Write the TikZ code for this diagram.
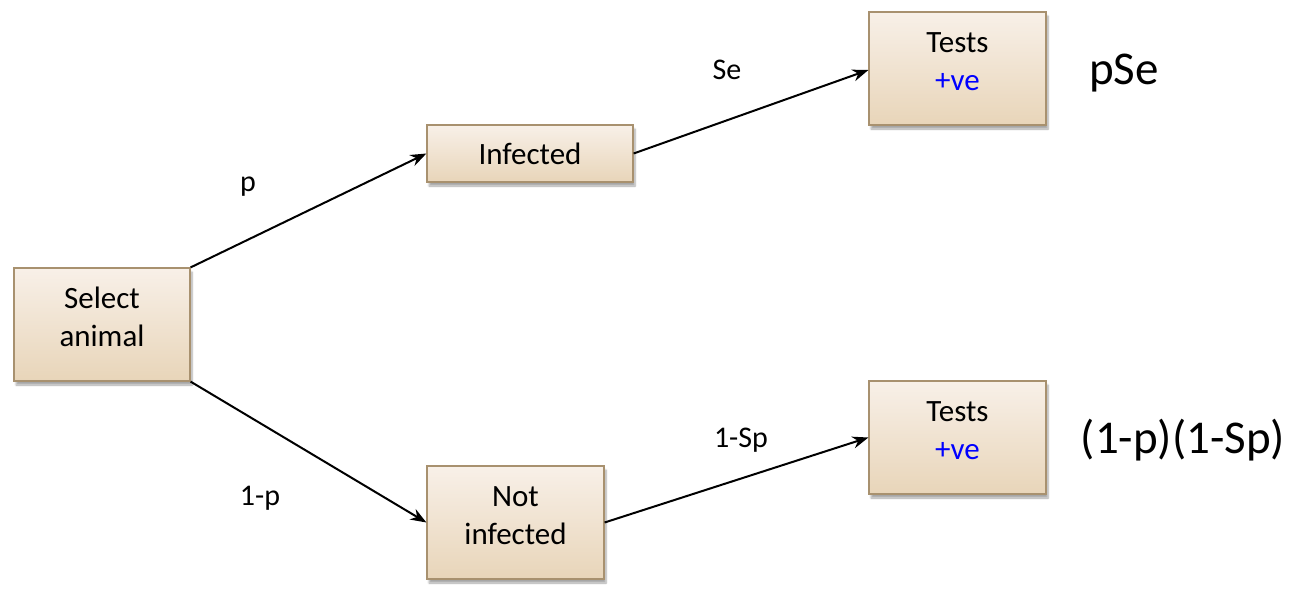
\documentclass[tikz,border=0pt]{standalone}
\usepackage{fontspec}
\setmainfont{Carlito}
\usetikzlibrary{arrows.meta,shadows.blur}
\definecolor{boxtop}{HTML}{F8F0E8}
\definecolor{boxbot}{HTML}{E8D5B9}
\definecolor{boxedge}{HTML}{A8916F}
\definecolor{posblue}{HTML}{0000FF}
\newcommand\boxlines[1]{\raisebox{5pt}[\height][\depth]{\begin{tabular}{@{}c@{}}#1\end{tabular}}}
\tikzset{
  box/.style={draw=boxedge, line width=1.2pt, top color=boxtop, bottom color=boxbot,
    align=center, inner sep=0pt, font=\fontsize{31}{38}\selectfont,
    blur shadow={shadow xshift=2pt, shadow yshift=-4pt, shadow blur steps=6, shadow opacity=35}},
  conn/.style={line width=2pt, -{Stealth[length=16pt,width=12pt]}},
  lab/.style={font=\fontsize{30}{34}\selectfont},
  res/.style={font=\fontsize{47}{52}\selectfont}
}
\begin{document}
\begin{tikzpicture}[x=1pt,y=-1pt]
\useasboundingbox (0,0) rectangle (1307,592);
\node[box, minimum width=176pt, minimum height=113pt] (sel) at (102,324.5) {\boxlines{Select\\animal}};
\node[box, minimum width=206pt, minimum height=57pt] (inf) at (530,153.5) {Infected};
\node[box, minimum width=177pt, minimum height=113pt] (not) at (515.5,522.5) {\boxlines{Not\\infected}};
\node[box, minimum width=177pt, minimum height=113pt] (t1) at (957.5,68.5) {\boxlines{Tests\\\textcolor{posblue}{+ve}}};
\node[box, minimum width=177pt, minimum height=113pt] (t2) at (957.5,437.5) {\boxlines{Tests\\\textcolor{posblue}{+ve}}};
\draw[conn] (sel.north east) -- (inf.west);
\draw[conn] (sel.south east) -- (not.west);
\draw[conn] (inf.east) -- ([yshift=-1.5pt]t1.west);
\draw[conn] (not.east) -- (t2.west);
\node[lab] (lp) at (248,187) {p};
\node[lab] (lnp) at (260,498) {1-p};
\node[lab] (lse) at (727,70) {Se};
\node[lab] (lsp) at (741,440) {1-Sp};
\node[res] (r1) at (1124,73) {pSe};
\node[res] (r2) at (1183,440) {(1-p)(1-Sp)};
\end{tikzpicture}
\end{document}
